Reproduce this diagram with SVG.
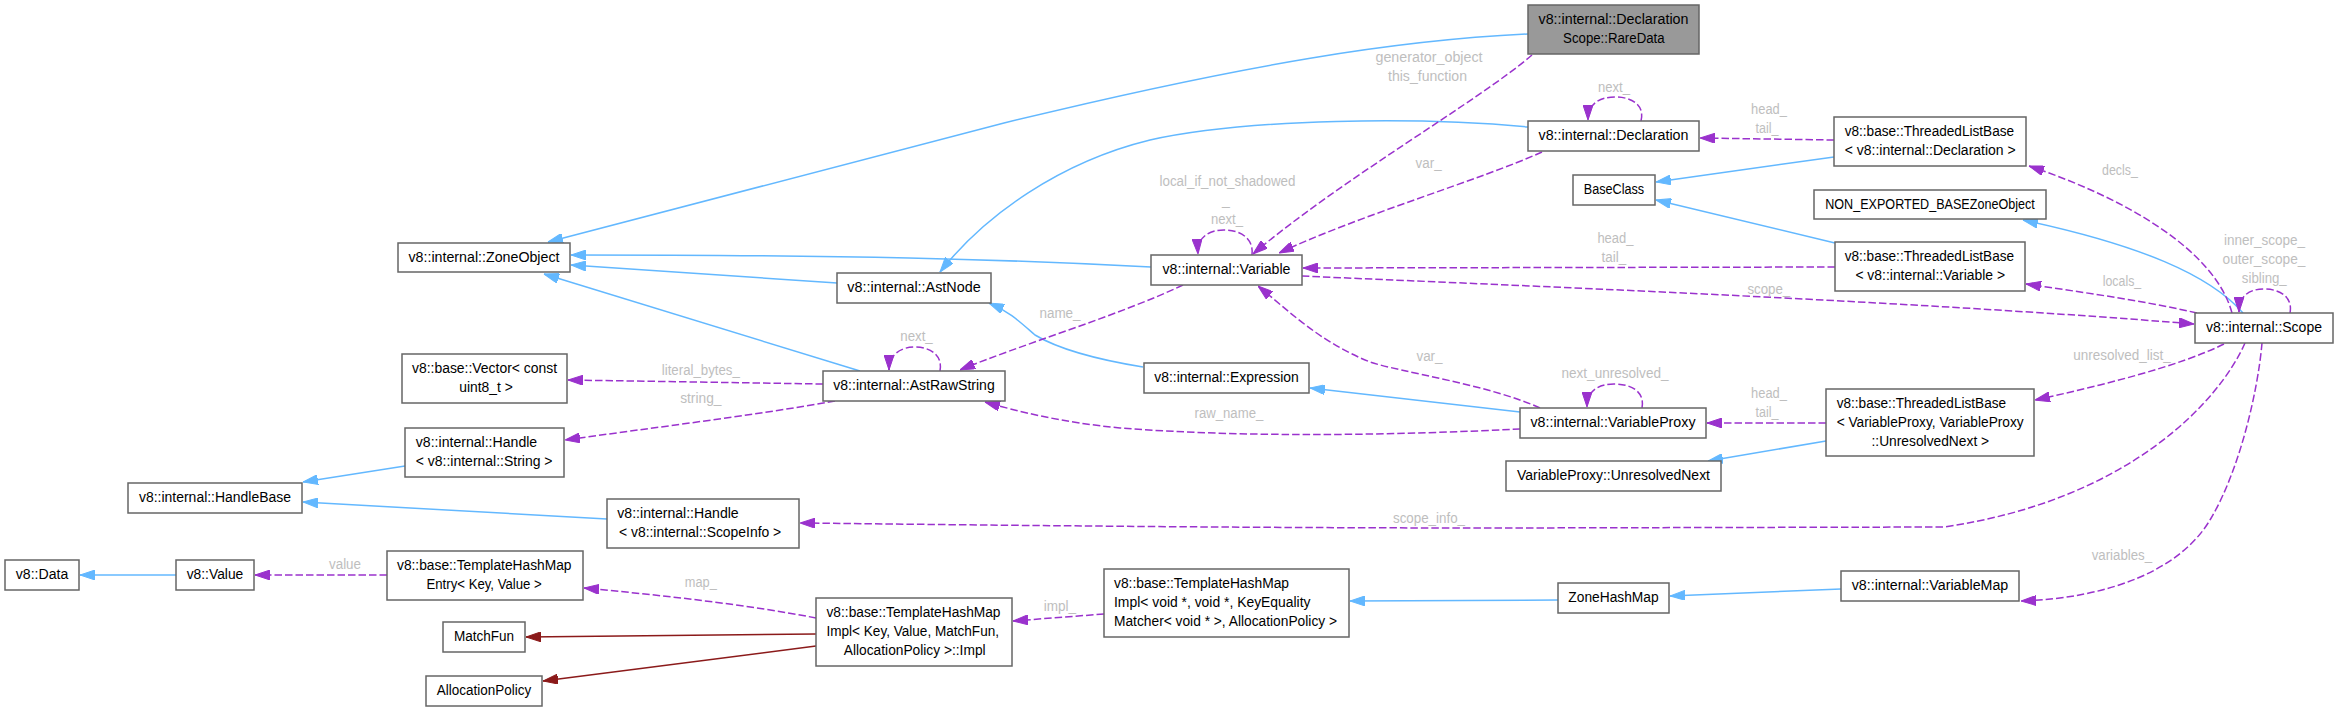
<svg xmlns="http://www.w3.org/2000/svg" width="2338" height="711" viewBox="0 0 2338 711">
<style>
.n rect{fill:#ffffff;stroke:#666666;stroke-width:1.5}
.n rect.hl{fill:#999999}
text{font-family:"Liberation Sans",Arial,sans-serif;font-size:14px;fill:#000000}
text.m{text-anchor:middle}
.lb{fill:#bebebe;text-anchor:middle}
.e path{fill:none;stroke-width:1.5}
.inh{stroke:#63b8ff;marker-end:url(#ab)}
.use{stroke:#9a32cd;stroke-dasharray:7.5,3;marker-end:url(#ap)}
.tpl{stroke:#8b1a1a;marker-end:url(#ar)}
</style>
<defs>
<marker id="ab" viewBox="0 0 15 10" refX="15" refY="5" markerWidth="15" markerHeight="10" markerUnits="userSpaceOnUse" orient="auto"><path d="M0,0 L15,5 L0,10 z" fill="#63b8ff" stroke="#63b8ff" stroke-width="1"/></marker>
<marker id="ap" viewBox="0 0 15 10" refX="15" refY="5" markerWidth="15" markerHeight="10" markerUnits="userSpaceOnUse" orient="auto"><path d="M0,0 L15,5 L0,10 z" fill="#9a32cd" stroke="#9a32cd" stroke-width="1"/></marker>
<marker id="ar" viewBox="0 0 15 10" refX="15" refY="5" markerWidth="15" markerHeight="10" markerUnits="userSpaceOnUse" orient="auto"><path d="M0,0 L15,5 L0,10 z" fill="#8b1a1a" stroke="#8b1a1a" stroke-width="1"/></marker>
</defs>
<rect x="0" y="0" width="2338" height="711" fill="#ffffff"/>

<g id="edges" class="e">
<!-- inheritance -->
<path class="inh" d="M1528,34 C1400,40 1250,63 1004,123 L548,242"/>
<path class="inh" d="M1528,127 C1420,117 1250,118 1150,140 C1060,162 985,215 940,272"/>
<path class="inh" d="M1151,267 C1000,259 850,255 571,255"/>
<path class="inh" d="M837,283 L571,265"/>
<path class="inh" d="M860,371 L544,274"/>
<path class="inh" d="M1143,367 C1100,360 1060,350 1035,335 C1020,322 1010,312 989,303"/>
<path class="inh" d="M1520,412 L1310,388"/>
<path class="inh" d="M1834,157 L1656,182"/>
<path class="inh" d="M1835,243 L1656,200"/>
<path class="inh" d="M2243,313 C2210,275 2140,245 2023,220"/>
<path class="inh" d="M1826,441 L1708,461"/>
<path class="inh" d="M405,466 L303,482"/>
<path class="inh" d="M607,519 L303,502"/>
<path class="inh" d="M176,575 L80,575"/>
<path class="inh" d="M1558,600 L1350,601"/>
<path class="inh" d="M1841,589 L1670,596"/>
<!-- template -->
<path class="tpl" d="M816,634 L526,637"/>
<path class="tpl" d="M816,646 L543,681"/>
<!-- usage -->
<path class="use" d="M1532,55 C1480,100 1340,180 1253,254"/>
<path class="use" d="M1542,152 C1480,180 1360,215 1279,253"/>
<path class="use" d="M1252,255 C1254,238 1240,230 1224,230 C1208,230 1197,238 1198,254"/>
<path class="use" d="M1641,121 C1645,105 1632,97 1615,97 C1598,97 1588,105 1588,120"/>
<path class="use" d="M940,371 C943,355 930,347 915,347 C900,347 889,355 889,370"/>
<path class="use" d="M1642,408 C1645,392 1632,384 1614,384 C1597,384 1587,392 1587,407"/>
<path class="use" d="M2290,313 C2293,297 2280,289 2264,289 C2248,289 2239,297 2239,312"/>
<path class="use" d="M1834,140 L1700,138"/>
<path class="use" d="M2232,313 C2215,250 2125,198 2029,166"/>
<path class="use" d="M2197,313 C2140,300 2080,292 2026,284"/>
<path class="use" d="M1835,267 L1303,268"/>
<path class="use" d="M1302,276 C1500,285 1900,300 2194,324"/>
<path class="use" d="M1183,285 C1120,315 1020,345 960,370"/>
<path class="use" d="M1540,408 C1490,385 1400,372 1370,362 C1320,342 1290,312 1258,286"/>
<path class="use" d="M1520,429 C1400,435 1250,438 1120,428 C1060,422 1020,412 985,402"/>
<path class="use" d="M823,384 L568,380"/>
<path class="use" d="M835,401 C750,416 650,428 565,440"/>
<path class="use" d="M2245,343 C2220,400 2130,500 1944,527 L1500,528 C1200,528 900,524 800,523"/>
<path class="use" d="M2262,343 C2258,390 2240,470 2210,520 C2180,570 2110,598 2021,601"/>
<path class="use" d="M2224,344 C2180,366 2100,386 2035,400"/>
<path class="use" d="M1826,423 L1707,423"/>
<path class="use" d="M816,618 C750,605 660,595 584,588"/>
<path class="use" d="M387,575 L255,575"/>
<path class="use" d="M1104,614 L1013,621"/>
<!-- labels -->
<text class="lb" x="1429" y="62" textLength="107" lengthAdjust="spacingAndGlyphs">generator_object</text>
<text class="lb" x="1427.5" y="81" textLength="79" lengthAdjust="spacingAndGlyphs">this_function</text>
<text class="lb" x="1614" y="91.5" textLength="32" lengthAdjust="spacingAndGlyphs">next_</text>
<text class="lb" x="1769" y="113.5" textLength="35.8" lengthAdjust="spacingAndGlyphs">head_</text>
<text class="lb" x="1767" y="132.5" textLength="23" lengthAdjust="spacingAndGlyphs">tail_</text>
<text class="lb" x="1428.6" y="167.5" textLength="26" lengthAdjust="spacingAndGlyphs">var_</text>
<text class="lb" x="2120" y="174.5" textLength="35.8" lengthAdjust="spacingAndGlyphs">decls_</text>
<text class="lb" x="1227.5" y="186" textLength="136" lengthAdjust="spacingAndGlyphs">local_if_not_shadowed</text>
<text class="lb" x="1226" y="205">_</text>
<text class="lb" x="1227" y="224" textLength="32" lengthAdjust="spacingAndGlyphs">next_</text>
<text class="lb" x="2264.5" y="245" textLength="81.2" lengthAdjust="spacingAndGlyphs">inner_scope_</text>
<text class="lb" x="2264" y="264" textLength="82.8" lengthAdjust="spacingAndGlyphs">outer_scope_</text>
<text class="lb" x="2264.3" y="283" textLength="44.9" lengthAdjust="spacingAndGlyphs">sibling_</text>
<text class="lb" x="1615.4" y="242.5" textLength="36" lengthAdjust="spacingAndGlyphs">head_</text>
<text class="lb" x="1613.8" y="261.5" textLength="24.6" lengthAdjust="spacingAndGlyphs">tail_</text>
<text class="lb" x="2122" y="285.5" textLength="38.5" lengthAdjust="spacingAndGlyphs">locals_</text>
<text class="lb" x="1768.8" y="293.5" textLength="42.8" lengthAdjust="spacingAndGlyphs">scope_</text>
<text class="lb" x="1060" y="318" textLength="41.2" lengthAdjust="spacingAndGlyphs">name_</text>
<text class="lb" x="916.5" y="341" textLength="32.5" lengthAdjust="spacingAndGlyphs">next_</text>
<text class="lb" x="1429.5" y="360.5" textLength="26.2" lengthAdjust="spacingAndGlyphs">var_</text>
<text class="lb" x="2122" y="359.5" textLength="97.3" lengthAdjust="spacingAndGlyphs">unresolved_list_</text>
<text class="lb" x="700.8" y="375" textLength="78" lengthAdjust="spacingAndGlyphs">literal_bytes_</text>
<text class="lb" x="1615" y="377.5" textLength="107" lengthAdjust="spacingAndGlyphs">next_unresolved_</text>
<text class="lb" x="1769" y="397.5" textLength="35.8" lengthAdjust="spacingAndGlyphs">head_</text>
<text class="lb" x="1767" y="416.5" textLength="23" lengthAdjust="spacingAndGlyphs">tail_</text>
<text class="lb" x="700.8" y="402.5" textLength="41.3" lengthAdjust="spacingAndGlyphs">string_</text>
<text class="lb" x="1228.9" y="418" textLength="68.8" lengthAdjust="spacingAndGlyphs">raw_name_</text>
<text class="lb" x="1429" y="522.5" textLength="72" lengthAdjust="spacingAndGlyphs">scope_info_</text>
<text class="lb" x="2121.9" y="559.5" textLength="60.4" lengthAdjust="spacingAndGlyphs">variables_</text>
<text class="lb" x="345" y="568.5" textLength="32" lengthAdjust="spacingAndGlyphs">value</text>
<text class="lb" x="700.8" y="587" textLength="32" lengthAdjust="spacingAndGlyphs">map_</text>
<text class="lb" x="1059.9" y="611" textLength="32.3" lengthAdjust="spacingAndGlyphs">impl_</text>
</g>

<g id="node-raredata" class="n"><rect class="hl" x="1528" y="5" width="171" height="49"/>
<text x="1538.5" y="24" textLength="150" lengthAdjust="spacingAndGlyphs">v8::internal::Declaration</text>
<text x="1563.1" y="43" textLength="101.5" lengthAdjust="spacingAndGlyphs">Scope::RareData</text></g>
<g id="node-declaration" class="n"><rect x="1528" y="121" width="171" height="30"/>
<text class="m" x="1613.5" y="140" textLength="150" lengthAdjust="spacingAndGlyphs">v8::internal::Declaration</text></g>
<g id="node-tlb-decl" class="n"><rect x="1834" y="117" width="192" height="49"/>
<text x="1844.7" y="136" textLength="169.4" lengthAdjust="spacingAndGlyphs">v8::base::ThreadedListBase</text>
<text x="1844.7" y="155" textLength="171" lengthAdjust="spacingAndGlyphs">&lt; v8::internal::Declaration &gt;</text></g>
<g id="node-baseclass" class="n"><rect x="1573" y="175" width="82" height="30"/>
<text class="m" x="1614" y="194" textLength="60.4" lengthAdjust="spacingAndGlyphs">BaseClass</text></g>
<g id="node-nonexported" class="n"><rect x="1814" y="190" width="232" height="29"/>
<text class="m" x="1930" y="208.5" textLength="209.5" lengthAdjust="spacingAndGlyphs">NON_EXPORTED_BASEZoneObject</text></g>
<g id="node-tlb-var" class="n"><rect x="1835" y="242" width="190" height="49"/>
<text x="1844.7" y="261" textLength="169.4" lengthAdjust="spacingAndGlyphs">v8::base::ThreadedListBase</text>
<text x="1855.4" y="280" textLength="149.7" lengthAdjust="spacingAndGlyphs">&lt; v8::internal::Variable &gt;</text></g>
<g id="node-scope" class="n"><rect x="2195" y="313" width="138" height="30"/>
<text class="m" x="2264" y="332" textLength="116" lengthAdjust="spacingAndGlyphs">v8::internal::Scope</text></g>
<g id="node-tlb-vp" class="n"><rect x="1826" y="389" width="208" height="67"/>
<text x="1836.7" y="407.5" textLength="169.4" lengthAdjust="spacingAndGlyphs">v8::base::ThreadedListBase</text>
<text x="1836.7" y="426.5" textLength="187" lengthAdjust="spacingAndGlyphs">&lt; VariableProxy, VariableProxy</text>
<text x="1871.5" y="445.5" textLength="117.6" lengthAdjust="spacingAndGlyphs">::UnresolvedNext &gt;</text></g>
<g id="node-variableproxy" class="n"><rect x="1520" y="408" width="186" height="30"/>
<text class="m" x="1613" y="427" textLength="165" lengthAdjust="spacingAndGlyphs">v8::internal::VariableProxy</text></g>
<g id="node-unresolvednext" class="n"><rect x="1506" y="461" width="215" height="30"/>
<text class="m" x="1613.5" y="480" textLength="193" lengthAdjust="spacingAndGlyphs">VariableProxy::UnresolvedNext</text></g>
<g id="node-variablemap" class="n"><rect x="1841" y="571" width="178" height="30"/>
<text class="m" x="1930" y="590" textLength="156.6" lengthAdjust="spacingAndGlyphs">v8::internal::VariableMap</text></g>
<g id="node-zonehashmap" class="n"><rect x="1558" y="583" width="111" height="30"/>
<text class="m" x="1613.5" y="602" textLength="90.3" lengthAdjust="spacingAndGlyphs">ZoneHashMap</text></g>
<g id="node-thm-void" class="n"><rect x="1104" y="569" width="245" height="68"/>
<text x="1114" y="588" textLength="175" lengthAdjust="spacingAndGlyphs">v8::base::TemplateHashMap</text>
<text x="1114" y="607" textLength="196.5" lengthAdjust="spacingAndGlyphs">Impl&lt; void *, void *, KeyEquality</text>
<text x="1114" y="626" textLength="223" lengthAdjust="spacingAndGlyphs">Matcher&lt; void * &gt;, AllocationPolicy &gt;</text></g>
<g id="node-thm-impl" class="n"><rect x="816" y="598" width="196" height="68"/>
<text x="826.5" y="617" textLength="174" lengthAdjust="spacingAndGlyphs">v8::base::TemplateHashMap</text>
<text x="826.5" y="636" textLength="172.5" lengthAdjust="spacingAndGlyphs">Impl&lt; Key, Value, MatchFun,</text>
<text x="843.8" y="655" textLength="141.8" lengthAdjust="spacingAndGlyphs">AllocationPolicy &gt;::Impl</text></g>
<g id="node-matchfun" class="n"><rect x="443" y="622" width="82" height="30"/>
<text class="m" x="484" y="641" textLength="60.2" lengthAdjust="spacingAndGlyphs">MatchFun</text></g>
<g id="node-allocationpolicy" class="n"><rect x="426" y="676" width="116" height="30"/>
<text class="m" x="484" y="695" textLength="94.4" lengthAdjust="spacingAndGlyphs">AllocationPolicy</text></g>
<g id="node-thm-entry" class="n"><rect x="387" y="551" width="196" height="49"/>
<text x="397" y="569.5" textLength="174.5" lengthAdjust="spacingAndGlyphs">v8::base::TemplateHashMap</text>
<text x="426.5" y="588.5" textLength="115.3" lengthAdjust="spacingAndGlyphs">Entry&lt; Key, Value &gt;</text></g>
<g id="node-value" class="n"><rect x="176" y="560" width="78" height="30"/>
<text class="m" x="215" y="579" textLength="56.6" lengthAdjust="spacingAndGlyphs">v8::Value</text></g>
<g id="node-data" class="n"><rect x="5" y="560" width="74" height="30"/>
<text class="m" x="42" y="579" textLength="52.5" lengthAdjust="spacingAndGlyphs">v8::Data</text></g>
<g id="node-handlebase" class="n"><rect x="128" y="483" width="174" height="30"/>
<text class="m" x="215" y="502" textLength="152" lengthAdjust="spacingAndGlyphs">v8::internal::HandleBase</text></g>
<g id="node-handle-scopeinfo" class="n"><rect x="607" y="499" width="192" height="49"/>
<text x="617.3" y="517.5" textLength="121.4" lengthAdjust="spacingAndGlyphs">v8::internal::Handle</text>
<text x="619" y="536.5" textLength="162.2" lengthAdjust="spacingAndGlyphs">&lt; v8::internal::ScopeInfo &gt;</text></g>
<g id="node-zoneobject" class="n"><rect x="398" y="243" width="172" height="29"/>
<text class="m" x="484" y="261.5" textLength="151" lengthAdjust="spacingAndGlyphs">v8::internal::ZoneObject</text></g>
<g id="node-vector" class="n"><rect x="402" y="354" width="165" height="49"/>
<text x="412" y="373" textLength="145" lengthAdjust="spacingAndGlyphs">v8::base::Vector&lt; const</text>
<text x="459.2" y="392" textLength="53.6" lengthAdjust="spacingAndGlyphs">uint8_t &gt;</text></g>
<g id="node-handle-string" class="n"><rect x="405" y="428" width="159" height="49"/>
<text x="415.8" y="447" textLength="121.4" lengthAdjust="spacingAndGlyphs">v8::internal::Handle</text>
<text x="415.8" y="466" textLength="136.7" lengthAdjust="spacingAndGlyphs">&lt; v8::internal::String &gt;</text></g>
<g id="node-astrawstring" class="n"><rect x="823" y="371" width="182" height="30"/>
<text class="m" x="914" y="390" textLength="161.4" lengthAdjust="spacingAndGlyphs">v8::internal::AstRawString</text></g>
<g id="node-astnode" class="n"><rect x="837" y="273" width="154" height="30"/>
<text class="m" x="914" y="292" textLength="133.3" lengthAdjust="spacingAndGlyphs">v8::internal::AstNode</text></g>
<g id="node-variable" class="n"><rect x="1151" y="255" width="151" height="30"/>
<text class="m" x="1226.5" y="274" textLength="128" lengthAdjust="spacingAndGlyphs">v8::internal::Variable</text></g>
<g id="node-expression" class="n"><rect x="1144" y="363" width="165" height="30"/>
<text class="m" x="1226.5" y="382" textLength="144.4" lengthAdjust="spacingAndGlyphs">v8::internal::Expression</text></g>
</svg>
